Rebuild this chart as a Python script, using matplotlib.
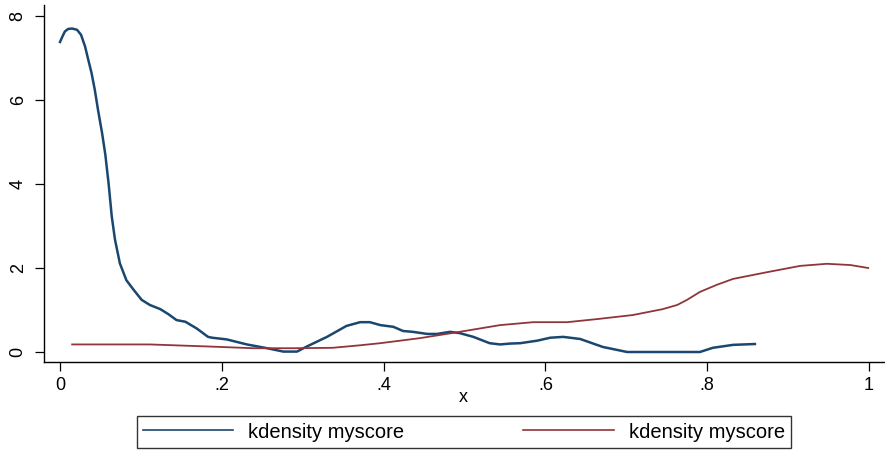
import matplotlib
matplotlib.use("Agg")
import matplotlib.pyplot as plt

plt.rcParams['font.family'] = ['Liberation Sans', 'DejaVu Sans']

# Blue series (kdensity myscore, first)
blue_x = [0.000, 0.003, 0.006, 0.010, 0.015, 0.021, 0.026, 0.031, 0.035, 0.039,
          0.043, 0.047, 0.052, 0.056, 0.060, 0.064, 0.068, 0.074, 0.082, 0.091,
          0.101, 0.111, 0.124, 0.134, 0.144, 0.155, 0.169, 0.183, 0.188, 0.206,
          0.231, 0.256, 0.276, 0.293, 0.305, 0.330, 0.354, 0.371, 0.383, 0.396,
          0.412, 0.424, 0.436, 0.454, 0.466, 0.482, 0.494, 0.511, 0.531, 0.544,
          0.556, 0.569, 0.590, 0.606, 0.622, 0.643, 0.671, 0.701, 0.791, 0.807,
          0.832, 0.859]
blue_y = [7.38, 7.51, 7.63, 7.69, 7.70, 7.67, 7.55, 7.27, 6.95, 6.64,
          6.24, 5.76, 5.21, 4.70, 4.02, 3.22, 2.67, 2.11, 1.71, 1.48,
          1.24, 1.12, 1.02, 0.90, 0.76, 0.72, 0.56, 0.36, 0.34, 0.30,
          0.18, 0.09, 0.01, 0.01, 0.13, 0.36, 0.62, 0.71, 0.71, 0.64,
          0.60, 0.50, 0.48, 0.43, 0.43, 0.48, 0.45, 0.36, 0.21, 0.18,
          0.20, 0.21, 0.27, 0.34, 0.36, 0.31, 0.12, 0.00, 0.00, 0.10,
          0.17, 0.19]

# Red series (kdensity myscore, second)
red_x = [0.015, 0.111, 0.185, 0.239, 0.288, 0.337, 0.371, 0.396, 0.445, 0.494,
         0.544, 0.585, 0.627, 0.667, 0.708, 0.745, 0.763, 0.775, 0.791, 0.812,
         0.832, 0.874, 0.915, 0.948, 0.977, 0.999]
red_y = [0.18, 0.18, 0.13, 0.09, 0.09, 0.10, 0.16, 0.21, 0.33, 0.48,
         0.64, 0.71, 0.71, 0.79, 0.88, 1.02, 1.12, 1.24, 1.43, 1.60,
         1.74, 1.90, 2.05, 2.10, 2.07, 2.00]

x_ticks = [0, 0.2, 0.4, 0.6, 0.8, 1.0]
x_tick_labels = ["0", ".2", ".4", ".6", ".8", "1"]
y_ticks = [0, 2, 4, 6, 8]
y_tick_labels = ["0", "2", "4", "6", "8"]
legend_labels = ["kdensity myscore", "kdensity myscore"]

BLUE = "#1a476f"
RED = "#90353b"

fig = plt.figure(figsize=(8.85, 4.5), dpi=100)
ax = fig.add_axes([44/885, 1 - 362/450, 1 - 44/885, (362 - 5)/450])

l1, = ax.plot(blue_x, blue_y, color=BLUE, lw=1.8, solid_joinstyle='round')
l2, = ax.plot(red_x, red_y, color=RED, lw=1.3, solid_joinstyle='round')

ax.set_xlim(-0.0198, 1.0198)
ax.set_ylim(-0.238, 8.26)

ax.spines['top'].set_visible(False)
ax.spines['right'].set_visible(False)
for s in ('left', 'bottom'):
    ax.spines[s].set_linewidth(1.0)
    ax.spines[s].set_color('black')

ax.set_xticks(x_ticks)
ax.set_xticklabels(x_tick_labels)
ax.set_yticks(y_ticks)
ax.set_yticklabels(y_tick_labels, rotation=90, va='center')
ax.tick_params(axis='both', direction='out', length=6.5, width=0.9,
               labelsize=13, colors='black')
ax.tick_params(axis='y', pad=6)
ax.tick_params(axis='x', pad=4)

fig.text(463/885, 1 - 398/450, "x", ha='center', va='center', fontsize=13)

leg = fig.legend([l1, l2], legend_labels, loc='center',
                 bbox_to_anchor=(464/885, 1 - 432/450), ncol=2,
                 fontsize=14.5, frameon=True, fancybox=False,
                 handlelength=4.5, handletextpad=0.75, columnspacing=5.9,
                 borderpad=0.3, borderaxespad=0)
leg.get_frame().set_edgecolor('black')
leg.get_frame().set_linewidth(1.0)
for h in leg.get_lines():
    h.set_linewidth(1.2)

fig.savefig("out.png", dpi=100)
